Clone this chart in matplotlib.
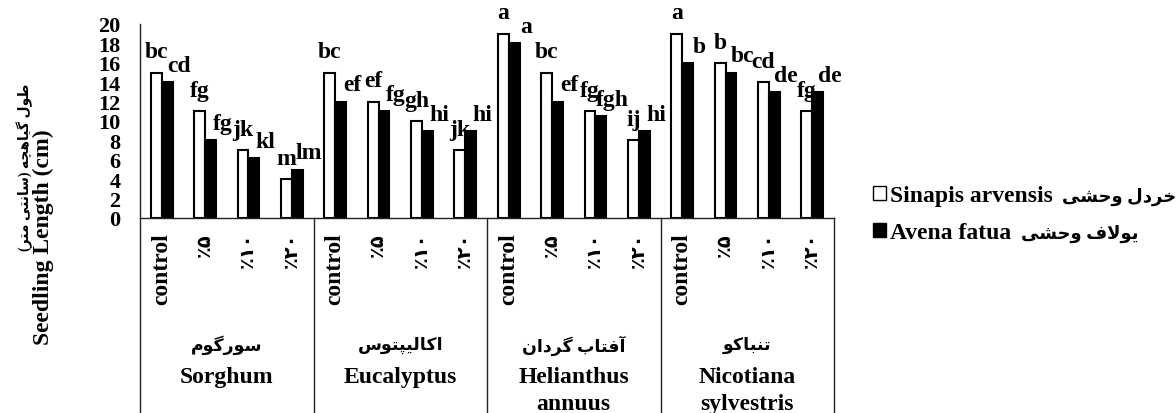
"""Seedling length bar chart (Sinapis / Avena) under four extract sources"""
import matplotlib
matplotlib.use("Agg")
import matplotlib.pyplot as plt
from matplotlib.patches import Patch
import numpy as np

# -- fonts: Times-like Latin, DejaVu Sans fallback for the Persian glyphs --
plt.rcParams["font.family"] = ["Liberation Serif", "DejaVu Sans"]
plt.rcParams["font.weight"] = "bold"
plt.rcParams["axes.unicode_minus"] = False

# =====================================================
# data
# =====================================================
groups_fa = ["سورگوم", "اکالیپتوس", "آفتاب گردان", "تنباکو"]
groups_en = ["Sorghum", "Eucalyptus", "Helianthus\nannuus", "Nicotiana\nsylvestris"]
doses = ["control", "٪۵", "٪۱۰", "٪۲۰"]

sinapis = [15, 11, 7, 4, 15, 12, 10, 7, 19, 15, 11, 8, 19, 16, 14, 11]
avena = [14, 8, 6.2, 5, 12, 11, 9, 9, 18, 12, 10.5, 9, 16, 15, 13, 13]
sinapis_letters = ["bc", "fg", "jk", "m", "bc", "ef", "gh", "jk",
                   "a", "bc", "fg", "ij", "a", "b", "cd", "fg"]
avena_letters = ["cd", "fg", "kl", "lm", "ef", "fg", "hi", "hi",
                 "a", "ef", "fgh", "hi", "b", "bc", "de", "de"]

ylabel_fa = "طول گیاهچه (سانتی متر)"
ylabel_en = "Seedling Length (cm)"
legend_fa = ["خردل وحشی", "یولاف وحشی"]
legend_en = ["Sinapis arvensis", "Avena fatua"]

# -- matplotlib has no Arabic shaping: map to presentation forms + visual order --
FORMS = {
    "ا": (0xFE8D, 0xFE8E), "آ": (0xFE81, 0xFE82), "د": (0xFEA9, 0xFEAA),
    "ر": (0xFEAD, 0xFEAE), "و": (0xFEED, 0xFEEE),
    "ب": (0xFE8F, 0xFE90, 0xFE91, 0xFE92), "پ": (0xFB56, 0xFB57, 0xFB58, 0xFB59),
    "ت": (0xFE95, 0xFE96, 0xFE97, 0xFE98), "ح": (0xFEA1, 0xFEA2, 0xFEA3, 0xFEA4),
    "خ": (0xFEA5, 0xFEA6, 0xFEA7, 0xFEA8), "چ": (0xFB7A, 0xFB7B, 0xFB7C, 0xFB7D),
    "س": (0xFEB1, 0xFEB2, 0xFEB3, 0xFEB4), "ش": (0xFEB5, 0xFEB6, 0xFEB7, 0xFEB8),
    "ط": (0xFEC1, 0xFEC2, 0xFEC3, 0xFEC4), "ف": (0xFED1, 0xFED2, 0xFED3, 0xFED4),
    "ک": (0xFB8E, 0xFB8F, 0xFB90, 0xFB91), "گ": (0xFB92, 0xFB93, 0xFB94, 0xFB95),
    "ل": (0xFEDD, 0xFEDE, 0xFEDF, 0xFEE0), "م": (0xFEE1, 0xFEE2, 0xFEE3, 0xFEE4),
    "ن": (0xFEE5, 0xFEE6, 0xFEE7, 0xFEE8), "ه": (0xFEE9, 0xFEEA, 0xFEEB, 0xFEEC),
    "ی": (0xFBFC, 0xFBFD, 0xFBFE, 0xFBFF),
}


def fa(text):
    out = []
    n = len(text)
    i = 0
    while i < n:
        c = text[i]
        if c not in FORMS:
            out.append({"(": ")", ")": "("}.get(c, c))
            i += 1
            continue
        prev = text[i - 1] if i > 0 else ""
        conn_prev = prev in FORMS and len(FORMS[prev]) == 4
        if c == "ل" and i + 1 < n and text[i + 1] == "ا":
            out.append(chr(0xFEFC if conn_prev else 0xFEFB))
            i += 2
            continue
        nxt = text[i + 1] if i + 1 < n else ""
        conn_next = len(FORMS[c]) == 4 and nxt in FORMS
        f = FORMS[c]
        if conn_prev and conn_next:
            g = f[3]
        elif conn_prev:
            g = f[1]
        elif conn_next:
            g = f[2]
        else:
            g = f[0]
        out.append(chr(g))
        i += 1
    return "".join(reversed(out))


# =====================================================
# figure
# =====================================================
W, H = 1176, 414
fig = plt.figure(figsize=(W / 100, H / 100), dpi=100)
ax = fig.add_axes([140 / W, 195 / H, 694 / W, 194 / H])

x = np.arange(len(sinapis))
width = 0.25
b1 = ax.bar(x - width / 2, sinapis, width, color="white", edgecolor="black", linewidth=1.5)
b2 = ax.bar(x + width / 2, avena, width, color="black", edgecolor="black", linewidth=1.5)

# significance letters
for xi, v, s in zip(x, sinapis, sinapis_letters):
    ax.annotate(s, (xi - width / 2, v), xytext=(0, 11), textcoords="offset points",
                ha="center", va="baseline", fontsize=17, fontweight="bold")
for xi, v, s in zip(x, avena, avena_letters):
    ax.annotate(s, (xi + width / 2, v), xytext=(8.5, 8), textcoords="offset points",
                ha="center", va="baseline", fontsize=17, fontweight="bold")

ax.set_xlim(-0.5, len(x) - 0.5)
ax.set_ylim(0, 20)
ax.set_yticks(np.arange(0, 21, 2))
ax.tick_params(axis="y", length=0, pad=14, labelsize=16)
ax.set_xticks(x)
ax.set_xticklabels(doses * len(groups_en), rotation=90, fontsize=17)
for t in ax.get_xticklabels():
    if t.get_text() != "control":
        t.set_fontsize(14)
ax.tick_params(axis="x", length=0, pad=10)
for sp in ["top", "right"]:
    ax.spines[sp].set_visible(False)
for sp in ["left", "bottom"]:
    ax.spines[sp].set_color("#222222")
    ax.spines[sp].set_linewidth(1)

# group separators and group names under the axis
n_dose = len(doses)
for k in range(len(groups_en) + 1):
    bx = k * n_dose - 0.5
    ax.plot([bx, bx], [0, -1.02], transform=ax.get_xaxis_transform(), clip_on=False,
            color="#222222", lw=1)
for k, (gfa, gen) in enumerate(zip(groups_fa, groups_en)):
    cx = k * n_dose + (n_dose - 1) / 2
    ax.annotate(fa(gfa), (cx, 0), xycoords=("data", "axes fraction"),
                xytext=(0, -91), textcoords="offset points",
                ha="center", va="center", fontsize=12.5, fontweight="bold")
    for j, line in enumerate(gen.split("\n")):
        ax.annotate(line, (cx, 0), xycoords=("data", "axes fraction"),
                    xytext=(0, -118 - 19.5 * j), textcoords="offset points",
                    ha="center", va="baseline", fontsize=17, fontweight="bold")

# y axis title (two lines, placed as in the original)
fig.text(25 / W, 1 - 167 / H, fa(ylabel_fa), rotation=90, ha="center", va="center",
         fontsize=10, fontweight="bold")
fig.text(43 / W, 1 - 237 / H, ylabel_en, rotation=90, ha="center", va="center",
         fontsize=17, fontweight="bold")

# legend: latin names in the legend, persian names appended after them
handles = [Patch(facecolor="white", edgecolor="black", linewidth=1),
           Patch(facecolor="black", edgecolor="black", linewidth=1)]
leg = fig.legend(handles, legend_en, loc="upper left", bbox_to_anchor=(873 / W, 1 - 186 / H),
                 frameon=False, prop=dict(size=17, weight="bold"), handlelength=0.55,
                 handleheight=0.55, handletextpad=0.15, labelspacing=0.68, borderpad=0,
                 borderaxespad=0)
fig.canvas.draw()
inv = fig.transFigure.inverted()
for t, p in zip(leg.get_texts(), legend_fa):
    bb = t.get_window_extent()
    x0, y0 = inv.transform((bb.x1 + 10, (bb.y0 + bb.y1) / 2))
    fig.text(x0, y0, fa(p), ha="left", va="center", fontsize=13, fontweight="bold")

plt.savefig("out.png", dpi=100)
plt.close()
